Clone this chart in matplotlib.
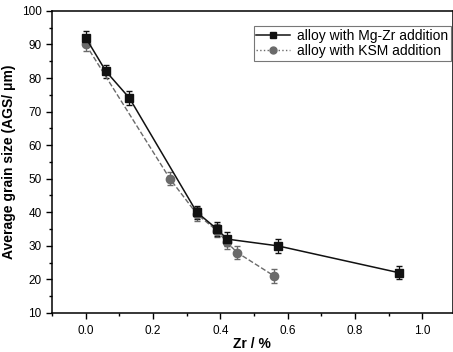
import matplotlib
matplotlib.use("Agg")
import matplotlib.pyplot as plt
from matplotlib.lines import Line2D
from matplotlib.ticker import MultipleLocator

plt.rcParams['font.family'] = ['Liberation Sans', 'DejaVu Sans']

# Mg-Zr addition series
MGZR_X = [0.0, 0.06, 0.13, 0.33, 0.39, 0.42, 0.57, 0.93]
MGZR_Y = [92, 82, 74, 40, 35, 32, 30, 22]
MGZR_ERR = [2, 2, 2, 2, 2, 2, 2, 2]

# KSM addition series
KSM_X = [0.0, 0.25, 0.33, 0.39, 0.42, 0.45, 0.56]
KSM_Y = [90, 50, 39.5, 34.5, 31, 28, 21]
KSM_ERR = [2, 2, 2, 2, 2, 2, 2]

MG_COLOR = '#111111'
KSM_COLOR = '#6a6a6a'

fig = plt.figure(figsize=(4.53, 3.52), dpi=100)
ax = fig.add_axes([0.115, 0.111, 0.884, 0.858])

# KSM first so the black squares sit on top
ax.errorbar(KSM_X, KSM_Y, yerr=KSM_ERR, color=KSM_COLOR, ls='--', lw=1,
            marker='o', ms=6, capsize=2.5, elinewidth=0.9)
ax.errorbar(MGZR_X, MGZR_Y, yerr=MGZR_ERR, color=MG_COLOR, ls='-', lw=1.1,
            marker='s', ms=6, capsize=2.5, elinewidth=0.9)

ax.set_xlim(-0.1, 1.09)
ax.set_ylim(10, 100)
ax.xaxis.set_minor_locator(MultipleLocator(0.1))
ax.yaxis.set_major_locator(MultipleLocator(10))
ax.yaxis.set_minor_locator(MultipleLocator(5))
ax.set_xticks([0.0, 0.2, 0.4, 0.6, 0.8, 1.0])
ax.set_xticklabels(['0.0', '0.2', '0.4', '0.6', '0.8', '1.0'])
ax.tick_params(which='both', direction='out', labelsize=8.5, width=1)
ax.tick_params(which='major', length=4)
ax.tick_params(which='minor', length=2.5)
ax.tick_params(axis='x', pad=5)
for s in ax.spines.values():
    s.set_linewidth(1.1)

ax.set_xlabel('Zr / %', fontsize=10, fontweight='bold', labelpad=0)
ax.set_ylabel('Average grain size (AGS/ μm)', fontsize=10, fontweight='bold', labelpad=4)

handles = [
    Line2D([], [], color=MG_COLOR, ls='-', lw=1.1, marker='s', ms=5),
    Line2D([], [], color=KSM_COLOR, ls=':', lw=1, marker='o', ms=5),
]
labels = ['alloy with Mg-Zr addition', 'alloy with KSM addition']
leg = ax.legend(handles, labels, loc='upper right',
                bbox_to_anchor=(0.995, 0.95), fontsize=10, frameon=True,
                fancybox=False, edgecolor='#555555', handlelength=2.4,
                handletextpad=0.5, borderpad=0.2, labelspacing=0.1,
                borderaxespad=0)
leg.get_frame().set_linewidth(0.8)

fig.savefig('out.png', dpi=100)
